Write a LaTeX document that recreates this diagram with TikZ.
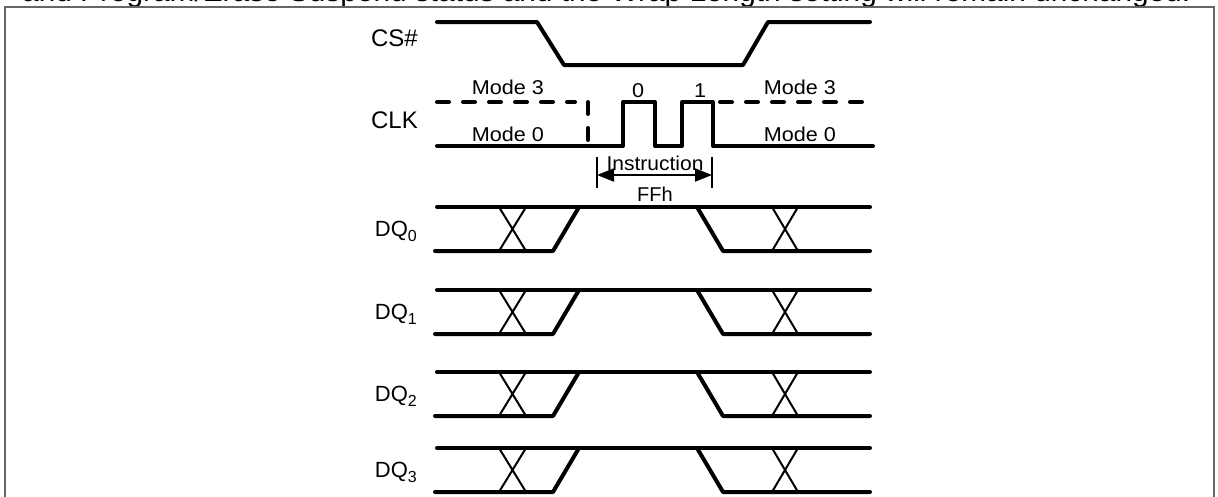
\documentclass[tikz,border=0pt]{standalone}
\usepackage{fontspec}
\setmainfont{Liberation Sans}
\usetikzlibrary{arrows.meta}
\tikzset{
  sig/.style={line width=4pt, line cap=round, line join=round},
  sigdash/.style={line width=4pt, line cap=round, dash pattern=on 12pt off 14pt},
  thinl/.style={line width=2pt},
  lbl/.style={font=\fontsize{22}{26}\selectfont, anchor=east, inner sep=0pt},
  biglbl/.style={font=\fontsize{24}{28}\selectfont, anchor=east, inner sep=0pt},
  small/.style={font=\fontsize{20}{23}\selectfont, inner sep=0pt, xscale=1.08},
  frame/.style={line width=2pt, draw=black!60}
}
\newcommand{\dqrow}[1]{%
  \draw[sig] (437,#1) -- (870,#1);
  \draw[sig] (435,#1+44) -- (553,#1+44) -- (579,#1);
  \draw[sig] (697,#1) -- (723,#1+44) -- (870,#1+44);
  \draw[thinl] (499,#1) -- (526,#1+44) (526,#1) -- (499,#1+44);
  \draw[thinl] (772,#1) -- (798,#1+44) (798,#1) -- (772,#1+44);
}
\newcommand{\subnum}[1]{\raisebox{-5pt}{\fontsize{16}{18}\selectfont #1}}
\begin{document}
\begin{tikzpicture}[x=1pt,y=-1pt]
\useasboundingbox (0,0) rectangle (1218,496);
% cut-off text line above the frame
\node[anchor=base west, inner sep=0pt] (toptext) at (22,1)
  {\resizebox{1168pt}{!}{\fontsize{20}{24}\selectfont and Program/Erase Suspend status and the Wrap Length setting will remain unchanged.}};
% frame
\draw[frame] (5,497) -- (5,7) -- (1214,7) -- (1214,497);
% CS#
\node[biglbl] (cs) at (418,38) {CS\#};
\draw[sig] (437,22) -- (537,22) -- (564,65) -- (743,65) -- (768,22) -- (870,22);
% CLK
\node[biglbl] (clk) at (418,120) {CLK};
\draw[sigdash] (437,102) -- (575,102);
\draw[sigdash] (720,102) -- (873,102);
\draw[sigdash] (588,102) -- (588,147);
\draw[sig] (437,146) -- (623,146) -- (623,102) -- (655,102) -- (655,146) -- (682,146) -- (682,102) -- (713,102) -- (713,146) -- (873,146);
\node[small] (m3l) at (508,87) {Mode 3};
\node[small] (m0l) at (508,134) {Mode 0};
\node[small] (b0) at (638,91) {0};
\node[small] (b1) at (700,91) {1};
\node[small] (m3r) at (800,87) {Mode 3};
\node[small] (m0r) at (800,134) {Mode 0};
% Instruction
\coordinate (ia) at (597,175);
\coordinate (ib) at (712,175);
\draw[thinl] (597,157) -- (597,188);
\draw[thinl] (712,157) -- (712,188);
\draw[thinl, {Triangle[length=17pt,width=13pt]}-{Triangle[length=17pt,width=13pt]}] (ia) -- (ib);
\node[font=\fontsize{20}{23}\selectfont, inner sep=0pt, xscale=1.05] (instr) at (655,163) {Instruction};
\node[font=\fontsize{20}{23}\selectfont, inner sep=0pt] (ffh) at (655,194) {FFh};
% DQ rows
\dqrow{207}
\dqrow{290}
\dqrow{372}
\dqrow{448}
\node[lbl] (dq0) at (417,231) {DQ\subnum{0}};
\node[lbl] (dq1) at (417,314) {DQ\subnum{1}};
\node[lbl] (dq2) at (417,396) {DQ\subnum{2}};
\node[lbl] (dq3) at (417,472) {DQ\subnum{3}};
\end{tikzpicture}
\end{document}
